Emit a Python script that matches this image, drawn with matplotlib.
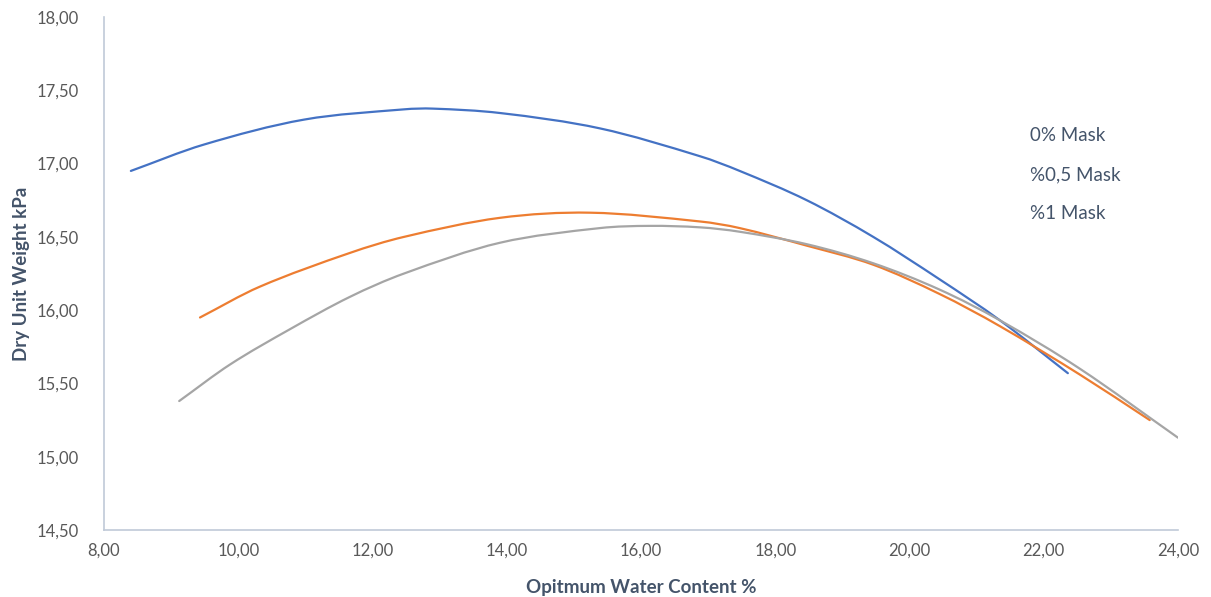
# -*- coding: utf-8 -*-
# Dry unit weight vs optimum water content, three mask ratios

import numpy as np
import matplotlib
matplotlib.use('Agg')
import matplotlib.pyplot as plt
from matplotlib.path import Path
from matplotlib.patches import PathPatch
from matplotlib.lines import Line2D
from matplotlib.ticker import FuncFormatter

plt.rcParams['font.family'] = ['Lato', 'DejaVu Sans']

## data

# 0% Mask
x_mask0 = [8.40, 9.49, 10.98, 12.47, 12.90, 13.90, 15.39, 16.88, 17.47, 18.47, 19.46, 20.45, 21.35, 22.36]
y_mask0 = [16.95, 17.13, 17.30, 17.37, 17.375, 17.345, 17.24, 17.05, 16.95, 16.75, 16.50, 16.21, 15.93, 15.57]

# %0,5 Mask
x_mask05 = [9.43, 10.32, 11.66, 12.47, 13.90, 15.24, 16.88, 17.47, 18.47, 19.46, 20.45, 21.35, 22.54, 23.58]
y_mask05 = [15.95, 16.16, 16.39, 16.50, 16.63, 16.665, 16.605, 16.56, 16.44, 16.31, 16.11, 15.89, 15.56, 15.25]

# %1 Mask
x_mask1 = [9.12, 9.88, 10.77, 11.66, 12.47, 13.90, 15.39, 16.13, 16.88, 17.47, 18.47, 19.46, 20.45, 21.35, 22.54, 24.00]
y_mask1 = [15.38, 15.63, 15.87, 16.09, 16.25, 16.46, 16.56, 16.575, 16.565, 16.535, 16.45, 16.32, 16.14, 15.93, 15.60, 15.13]

labels = ['0% Mask', '%0,5 Mask', '%1 Mask']

## colours
colour_mask0 = '#4472C4'
colour_mask05 = '#ED7D31'
colour_mask1 = '#A5A5A5'
colour_text = '#595959'
colour_title = '#44546A'
colour_axis = '#C0CAD8'


def smooth_line(ax, xs, ys, color, lw=1.6):
    # excel-like smoothed line: cubic bezier segments between the read points
    xs = np.asarray(xs, float)
    ys = np.asarray(ys, float)
    n = len(xs)
    d = np.empty(n)
    d[0] = (ys[1] - ys[0]) / (xs[1] - xs[0])
    d[-1] = (ys[-1] - ys[-2]) / (xs[-1] - xs[-2])
    d[1:-1] = (ys[2:] - ys[:-2]) / (xs[2:] - xs[:-2])
    verts = [(xs[0], ys[0])]
    codes = [Path.MOVETO]
    for i in range(n - 1):
        h = (xs[i + 1] - xs[i]) / 3.0
        verts += [(xs[i] + h, ys[i] + d[i] * h),
                  (xs[i + 1] - h, ys[i + 1] - d[i + 1] * h),
                  (xs[i + 1], ys[i + 1])]
        codes += [Path.CURVE4] * 3
    ax.add_patch(PathPatch(Path(verts, codes), fill=False, edgecolor=color,
                           linewidth=lw, capstyle='round', joinstyle='round'))


#%%
fig = plt.figure(figsize=(12.11, 5.97), dpi=100)
ax = fig.add_axes([0.0859, 0.1122, 0.8868, 0.8593])

smooth_line(ax, x_mask0, y_mask0, colour_mask0)
smooth_line(ax, x_mask05, y_mask05, colour_mask05)
smooth_line(ax, x_mask1, y_mask1, colour_mask1)

# limits and ticks
ax.set_xlim(8, 24)
ax.set_ylim(14.5, 18)
ax.set_xticks(np.arange(8, 24.1, 2))
ax.set_yticks(np.arange(14.5, 18.01, 0.5))
comma = FuncFormatter(lambda v, p: ('%.2f' % v).replace('.', ','))
ax.xaxis.set_major_formatter(comma)
ax.yaxis.set_major_formatter(comma)
ax.tick_params(length=0, labelsize=12, labelcolor=colour_text)
ax.tick_params(axis='y', pad=18)
ax.tick_params(axis='x', pad=9)

# spines
for side in ['top', 'right']:
    ax.spines[side].set_visible(False)
for side in ['left', 'bottom']:
    ax.spines[side].set_color(colour_axis)
    ax.spines[side].set_linewidth(1.2)

# labels
ax.set_xlabel('Opitmum Water Content %', fontsize=13.5, fontweight='bold',
              color=colour_title, labelpad=15)
ax.set_ylabel('Dry Unit Weight kPa', fontsize=13.5, fontweight='bold',
              color=colour_title, labelpad=5)

# legend, text only
handles = [Line2D([], [], color=c) for c in [colour_mask0, colour_mask05, colour_mask1]]
leg = ax.legend(handles, labels, loc='upper left', bbox_to_anchor=(0.862, 0.786),
                frameon=False, handlelength=0, handletextpad=0, fontsize=13.5,
                borderpad=0, borderaxespad=0,
                labelspacing=1.18, labelcolor=colour_title)
for h in leg.legend_handles:
    h.set_visible(False)

plt.savefig('out.png', dpi=100)
